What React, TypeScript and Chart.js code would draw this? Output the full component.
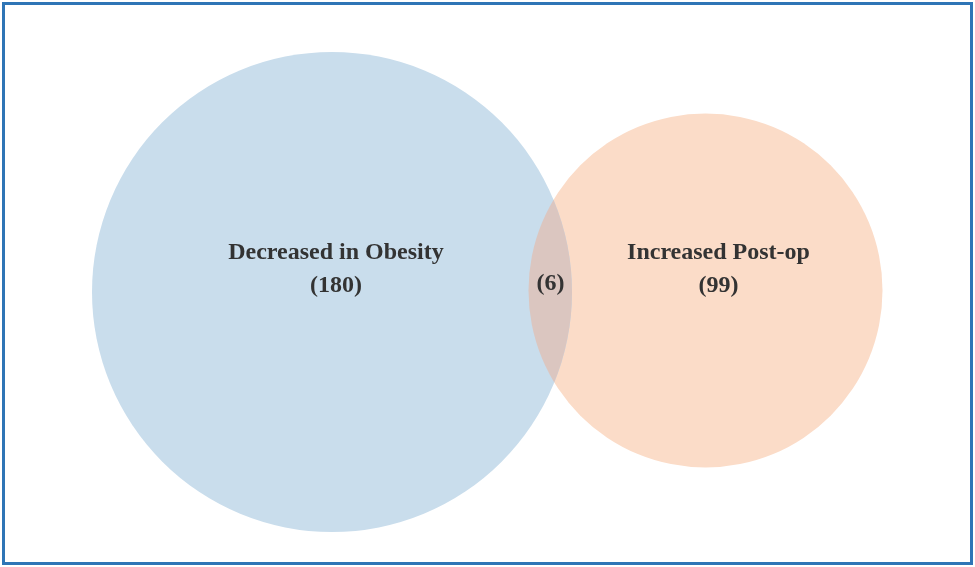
import React, { useEffect, useRef } from "react";
import { Chart, registerables } from "chart.js";

Chart.register(...registerables);

// Venn sets
const setNames = ["Decreased in Obesity", "Increased Post-op"];
const setCounts = [180, 99];
const overlapCount = 6;
// circle geometry in plot units (plot spans 975 x 567 units)
const circleX = [332, 705.5];
const circleY = [292, 290.5];
const circleR = [240, 177];
// label anchors in plot units
const labelX = [336, 718.5];
const overlapLabelX = 550.5;
const labelLine1Y = 259;
const labelLine2Y = 292;
const overlapLabelY = 290;

const fillColors = ["#c9ddec", "#fbdcc8"];
const overlapColor = "#dbc6c0";
const textColor = "#333333";
const FONT = 'bold 24px "Liberation Serif", "DejaVu Serif", serif';

const vennPlugin = {
  id: "vennPlugin",
  afterDatasetsDraw(chart: any) {
    const ctx = chart.ctx;
    const xs = chart.scales.x;
    const ys = chart.scales.y;
    const a = chart.getDatasetMeta(0).data[0];
    const b = chart.getDatasetMeta(1).data[0];
    if (!a || !b) return;
    const ra = a.options.radius;
    const rb = b.options.radius;
    ctx.save();
    ctx.beginPath();
    ctx.arc(a.x, a.y, ra, 0, Math.PI * 2);
    ctx.clip();
    ctx.beginPath();
    ctx.arc(b.x, b.y, rb, 0, Math.PI * 2);
    ctx.fillStyle = overlapColor;
    ctx.fill();
    ctx.restore();

    ctx.save();
    ctx.fillStyle = textColor;
    ctx.font = FONT;
    ctx.textAlign = "center";
    ctx.textBaseline = "alphabetic";
    for (let i = 0; i < setNames.length; i++) {
      const px = xs.getPixelForValue(labelX[i]);
      ctx.fillText(setNames[i], px, ys.getPixelForValue(labelLine1Y));
      ctx.fillText("(" + setCounts[i] + ")", px, ys.getPixelForValue(labelLine2Y));
    }
    ctx.fillText(
      "(" + overlapCount + ")",
      xs.getPixelForValue(overlapLabelX),
      ys.getPixelForValue(overlapLabelY)
    );
    ctx.restore();
  },
};

export default function App() {
  const ref = useRef<HTMLCanvasElement | null>(null);
  useEffect(() => {
    if (!ref.current) return;
    const chart = new Chart(ref.current, {
      type: "bubble",
      data: {
        datasets: setNames.map((name, i) => ({
          label: name,
          data: [{ x: circleX[i], y: circleY[i], r: circleR[i] }],
          backgroundColor: fillColors[i],
          borderWidth: 0,
          hoverRadius: 0,
          clip: false,
        })),
      },
      options: {
        responsive: false,
        animation: false,
        events: [],
        layout: { padding: 0, autoPadding: false },
        plugins: { legend: { display: false }, tooltip: { enabled: false } },
        scales: {
          x: { type: "linear", min: 0, max: 975, display: false },
          y: { type: "linear", min: 0, max: 567, reverse: true, display: false },
        },
      },
      plugins: [vennPlugin],
    } as any);
    return () => chart.destroy();
  }, []);
  return (
    <div style={{ position: "absolute", left: 0, top: 0, width: 975, height: 567, background: "#ffffff" }}>
      <canvas ref={ref} width={975} height={567} style={{ position: "absolute", left: 0, top: 0 }} />
      <div
        style={{
          position: "absolute",
          left: 2,
          top: 2,
          width: 971,
          height: 563,
          boxSizing: "border-box",
          border: "3px solid #2f75b6",
          pointerEvents: "none",
        }}
      />
    </div>
  );
}
